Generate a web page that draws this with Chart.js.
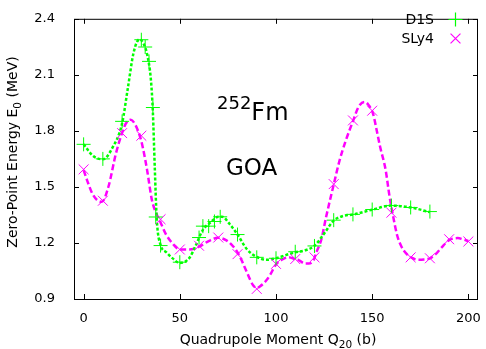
<!DOCTYPE html>
<html>
<head>
<meta charset="utf-8">
<script src="https://cdn.jsdelivr.net/npm/chart.js@4.4.0/dist/chart.umd.min.js"></script>
<style>
  body { margin: 0; background: #fff; }
  canvas { display: block; }
</style>
</head>
<body>
<canvas id="c" width="486" height="349"></canvas>
<script>
const xTicks = [0, 50, 100, 150, 200]
const yTicks = [0.9, 1.2, 1.5, 1.8, 2.1, 2.4]

// calculated points (markers)
const d1sQ = [0, 10, 20, 30, 32, 34, 36, 37.5, 40, 50, 60, 62, 65, 68, 71, 80, 90, 100, 110, 120, 130, 140, 150, 160, 170, 180]
const d1sE = [1.728, 1.65, 1.851, 2.288, 2.249, 2.172, 1.925, 1.339, 1.186, 1.097, 1.229, 1.29, 1.29, 1.315, 1.34, 1.245, 1.123, 1.118, 1.153, 1.184, 1.322, 1.353, 1.379, 1.40, 1.39, 1.368]
const sly4Q = [0, 10, 20, 30, 40, 50, 60, 70, 80, 90, 100, 110, 120, 130, 140, 150, 160, 170, 180, 190, 200]
const sly4E = [1.594, 1.426, 1.788, 1.774, 1.327, 1.165, 1.185, 1.229, 1.14, 0.954, 1.088, 1.114, 1.123, 1.515, 1.856, 1.908, 1.362, 1.123, 1.118, 1.22, 1.208]

// smooth fitted curves
const d1sCurveQ = [0, 5, 10, 15, 20, 23, 26, 29, 31, 33, 35, 36, 37, 38, 40, 43, 46, 50, 55, 58, 62, 66, 70, 72, 76, 80, 85, 90, 95, 100, 105, 110, 115, 120, 125, 130, 135, 140, 150, 160, 170, 180]
const d1sCurveE = [1.728, 1.665, 1.648, 1.71, 1.84, 2.03, 2.22, 2.29, 2.27, 2.21, 2.07, 1.9, 1.6, 1.33, 1.19, 1.15, 1.12, 1.093, 1.12, 1.18, 1.27, 1.31, 1.34, 1.34, 1.30, 1.245, 1.165, 1.125, 1.11, 1.118, 1.135, 1.15, 1.16, 1.185, 1.25, 1.32, 1.345, 1.352, 1.378, 1.40, 1.39, 1.365]
const sly4CurveQ = [0, 2, 4.5, 7, 9.5, 13, 16.7, 20, 22, 24.5, 27, 29.6, 31, 33, 35.5, 38, 40, 42.6, 46, 50, 55, 60, 65, 70, 74, 77, 80, 82, 85, 88, 90, 92, 95, 97, 100, 103, 106.5, 110, 112, 115, 117, 119.5, 121, 123.6, 126, 130, 133, 136, 140, 143, 146, 148, 150.5, 152, 154, 157, 159, 161, 163, 165, 168, 170, 174, 177, 180, 183, 186, 190, 194.5, 197, 200]
const sly4CurveE = [1.59, 1.53, 1.465, 1.43, 1.42, 1.505, 1.675, 1.79, 1.84, 1.86, 1.83, 1.76, 1.70, 1.59, 1.43, 1.353, 1.31, 1.25, 1.2, 1.165, 1.165, 1.18, 1.21, 1.228, 1.215, 1.19, 1.15, 1.11, 1.04, 0.975, 0.96, 0.97, 1.0, 1.03, 1.085, 1.11, 1.124, 1.113, 1.107, 1.09, 1.09, 1.107, 1.15, 1.22, 1.337, 1.513, 1.64, 1.74, 1.852, 1.93, 1.955, 1.94, 1.89, 1.82, 1.72, 1.59, 1.45, 1.337, 1.24, 1.185, 1.14, 1.124, 1.11, 1.112, 1.118, 1.14, 1.175, 1.215, 1.226, 1.22, 1.21]

const GREEN = '#00ff00'
const MAGENTA = '#ff00ff'
const FONT = "'DejaVu Sans', sans-serif"

function pairs(xs, ys) {
  return xs.map((x, i) => ({ x: x, y: ys[i] }))
}

// text with a subscript / superscript part
function richText(ctx, parts, x, y, size, align) {
  let total = 0
  parts.forEach(p => {
    ctx.font = (p.sub || p.sup ? size * 0.75 : size) + 'px ' + FONT
    total += ctx.measureText(p.t).width
  })
  let cx = align === 'center' ? x - total / 2 : x
  ctx.textAlign = 'left'
  ctx.textBaseline = 'alphabetic'
  parts.forEach(p => {
    ctx.font = (p.sub || p.sup ? size * 0.75 : size) + 'px ' + FONT
    let dy = p.sub ? size * 0.3 : (p.sup ? -size * 0.45 : 0)
    ctx.fillText(p.t, cx, y + dy)
    cx += ctx.measureText(p.t).width
  })
}

const gnuplotBits = {
  id: 'gnuplotBits',
  beforeDatasetsDraw(chart) {
    const ctx = chart.ctx
    const a = chart.chartArea
    const xs = chart.scales.x, ys = chart.scales.y
    ctx.save()
    ctx.strokeStyle = '#000'
    ctx.lineWidth = 1
    ctx.strokeRect(a.left + 0.5, a.top + 0.5, a.right - a.left - 1, a.bottom - a.top)
    ctx.beginPath()
    xTicks.forEach(v => {
      const px = Math.round(xs.getPixelForValue(v)) + 0.5
      ctx.moveTo(px, a.bottom); ctx.lineTo(px, a.bottom - 5)
      ctx.moveTo(px, a.top); ctx.lineTo(px, a.top + 5)
    })
    yTicks.forEach(v => {
      const py = Math.round(ys.getPixelForValue(v)) + 0.5
      ctx.moveTo(a.left, py); ctx.lineTo(a.left + 5, py)
      ctx.moveTo(a.right, py); ctx.lineTo(a.right - 5, py)
    })
    ctx.stroke()
    ctx.restore()
  },
  afterDraw(chart) {
    const ctx = chart.ctx
    ctx.save()
    ctx.fillStyle = '#000'
    // axis titles
    richText(ctx, [{ t: 'Quadrupole Moment Q' }, { t: '20', sub: true }, { t: ' (b)' }], 278, 344, 14, 'center')
    ctx.save()
    ctx.translate(17, 152)
    ctx.rotate(-Math.PI / 2)
    richText(ctx, [{ t: 'Zero-Point Energy E' }, { t: '0', sub: true }, { t: ' (MeV)' }], 0, 0, 14, 'center')
    ctx.restore()
    // labels inside the plot
    richText(ctx, [{ t: '252', sup: true }, { t: 'Fm' }], 217, 120, 24, 'left')
    ctx.font = '23px ' + FONT
    ctx.textAlign = 'left'
    ctx.fillText('GOA', 226, 175)
    // key, samples drawn with the datasets' own point styles
    ctx.font = '14px ' + FONT
    ctx.textAlign = 'right'
    const key = chart.data.datasets.slice(0, 2)
    key.forEach((ds, i) => {
      const y = 19 + i * 19
      ctx.fillStyle = '#000'
      ctx.fillText(ds.label, 434, y + 5)
      ctx.strokeStyle = ds.borderColor
      ctx.fillStyle = ds.borderColor
      ctx.lineWidth = 1.2
      Chart.helpers.drawPoint(ctx, { pointStyle: ds.pointStyle, radius: 7, borderWidth: 1.2, rotation: 0 }, 455.5, y + 0.5)
    })
    ctx.restore()
  }
}

new Chart(document.getElementById('c'), {
  type: 'line',
  data: {
    datasets: [
      {
        label: 'D1S',
        data: pairs(d1sQ, d1sE),
        showLine: false,
        pointStyle: 'cross',
        pointRadius: 7,
        pointBorderWidth: 1,
        borderColor: GREEN,
        backgroundColor: GREEN
      },
      {
        label: 'SLy4',
        data: pairs(sly4Q, sly4E),
        showLine: false,
        pointStyle: 'crossRot',
        pointRadius: 7,
        pointBorderWidth: 1,
        borderColor: MAGENTA,
        backgroundColor: MAGENTA
      },
      {
        label: 'D1S fit',
        data: pairs(d1sCurveQ, d1sCurveE),
        borderColor: GREEN,
        borderWidth: 2.5,
        borderDash: [3, 2],
        pointRadius: 0,
        cubicInterpolationMode: 'monotone'
      },
      {
        label: 'SLy4 fit',
        data: pairs(sly4CurveQ, sly4CurveE),
        borderColor: MAGENTA,
        borderWidth: 2.5,
        borderDash: [6, 3],
        pointRadius: 0,
        cubicInterpolationMode: 'monotone'
      }
    ]
  },
  options: {
    responsive: false,
    animation: false,
    layout: { padding: { top: 5, right: 5, left: 0, bottom: 0 } },
    plugins: { legend: { display: false }, tooltip: { enabled: false } },
    scales: {
      x: {
        type: 'linear',
        min: -5,
        max: 205,
        grid: { display: false },
        border: { display: false },
        afterBuildTicks: s => { s.ticks = xTicks.map(v => ({ value: v })) },
        afterFit: s => { s.height = 50 },
        ticks: { color: '#000', font: { family: FONT, size: 13 }, padding: 4, maxRotation: 0 }
      },
      y: {
        min: 0.9,
        max: 2.4,
        grid: { display: false },
        border: { display: false },
        afterBuildTicks: s => { s.ticks = yTicks.map(v => ({ value: v })) },
        afterFit: s => { s.width = 74 },
        ticks: { color: '#000', font: { family: FONT, size: 13 }, padding: 11, callback: v => v.toFixed(1) }
      }
    }
  },
  plugins: [gnuplotBits]
})
</script>
</body>
</html>
